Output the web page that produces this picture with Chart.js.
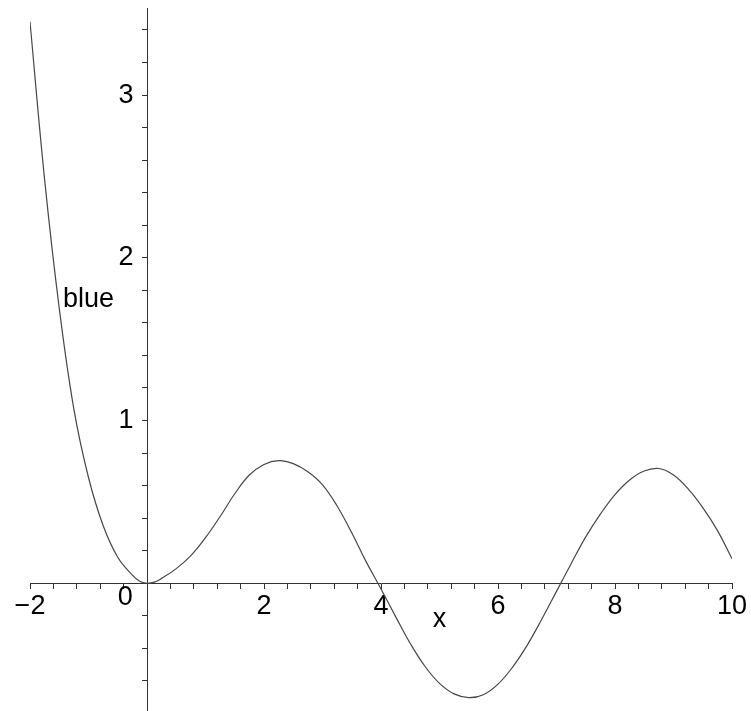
<!DOCTYPE html>
<html>
<head>
<meta charset="utf-8">
<script src="https://cdn.jsdelivr.net/npm/chart.js@4/dist/chart.umd.min.js"></script>
<style>
  html, body { margin: 0; padding: 0; background: #ffffff; }
  #wrap { width: 751px; height: 711px; position: relative; }
</style>
</head>
<body>
<div id="wrap"><canvas id="plot"></canvas></div>
<script>
// curve samples
const xValues = [
  -2, -1.75, -1.5, -1.25, -1, -0.75, -0.5, -0.25, -0.125,
  0, 0.125, 0.25, 0.5, 0.75, 1, 1.25, 1.5, 1.75,
  2, 2.25, 2.5, 2.75, 3, 3.25, 3.5, 3.75,
  4, 4.25, 4.5, 4.75, 5, 5.25, 5.5, 5.75,
  6, 6.25, 6.5, 6.75, 7, 7.25, 7.5, 7.75,
  8, 8.25, 8.5, 8.75, 9, 9.25, 9.5, 9.75, 10
];
const yValues = [
  3.45, 2.48, 1.69, 1.07, 0.65, 0.355, 0.16, 0.05, 0.012,
  0, 0.007, 0.03, 0.09, 0.17, 0.28, 0.41, 0.55, 0.665,
  0.73, 0.754, 0.735, 0.685, 0.605, 0.475, 0.31, 0.13,
  -0.035, -0.205, -0.37, -0.51, -0.615, -0.68, -0.703, -0.685,
  -0.62, -0.515, -0.38, -0.22, -0.05, 0.12, 0.285, 0.425,
  0.545, 0.635, 0.69, 0.705, 0.665, 0.58, 0.465, 0.325, 0.15
];

// axis ranges and tick spacing
const xRange = [-2, 10];
const yRange = [-0.785, 3.535];
const xStep = 0.4;
const yStep = 0.2;

// free text placed in data coordinates
const notes = [
  { text: "blue", x: -1.436, y: 1.70, align: "left" },
  { text: "x", x: 5.0, y: -0.27, align: "center" },
  { text: "0", x: -0.37, y: -0.132, align: "center" }
];

const FAMILY = '"Liberation Sans", Arial, sans-serif';
const AXIS_COLOR = "#333333";

function isWhole(v) {
  return Math.abs(v - Math.round(v)) < 1e-6;
}

function fmt(v) {
  const n = Math.round(v);
  return n < 0 ? "\u2212" + Math.abs(n) : String(n);
}

// centred axes must not take room from the plot area
function noRoom(scale) {
  if (scale.isHorizontal()) scale.height = 0;
  else scale.width = 0;
  scale.paddingLeft = 0;
  scale.paddingRight = 0;
  scale.paddingTop = 0;
  scale.paddingBottom = 0;
}

const points = xValues.map((x, i) => ({ x: x, y: yValues[i] }));

const notesPlugin = {
  id: "notes",
  afterDraw(chart) {
    const ctx = chart.ctx;
    const sx = chart.scales.x;
    const sy = chart.scales.y;
    ctx.save();
    ctx.font = "27px " + FAMILY;
    ctx.fillStyle = "#000000";
    ctx.textBaseline = "alphabetic";
    notes.forEach((n) => {
      ctx.textAlign = n.align;
      ctx.fillText(n.text, sx.getPixelForValue(n.x), sy.getPixelForValue(n.y));
    });
    ctx.restore();
  }
};

new Chart(document.getElementById("plot"), {
  type: "line",
  data: {
    datasets: [
      {
        label: "blue",
        data: points,
        borderColor: "#474747",
        borderWidth: 1.2,
        pointRadius: 0,
        tension: 0.4,
        fill: false
      }
    ]
  },
  options: {
    responsive: true,
    maintainAspectRatio: false,
    animation: false,
    layout: { padding: { left: 30, right: 19, top: 8, bottom: 0 } },
    plugins: {
      legend: { display: false },
      tooltip: { enabled: false }
    },
    scales: {
      x: {
        type: "linear",
        position: { y: 0 },
        min: xRange[0],
        max: xRange[1],
        afterFit: noRoom,
        border: { color: AXIS_COLOR, width: 1 },
        grid: { drawOnChartArea: false, drawTicks: true, tickLength: 5, color: AXIS_COLOR },
        ticks: {
          stepSize: xStep,
          autoSkip: false,
          includeBounds: false,
          maxRotation: 0,
          padding: 2,
          color: "#000000",
          font: { family: FAMILY, size: 27 },
          callback: (v) => (isWhole(v) && Math.round(v) % 2 === 0 && Math.round(v) !== 0 ? fmt(v) : "")
        }
      },
      y: {
        type: "linear",
        position: { x: 0 },
        min: yRange[0],
        max: yRange[1],
        afterFit: noRoom,
        border: { color: AXIS_COLOR, width: 1 },
        grid: { drawOnChartArea: false, drawTicks: true, tickLength: 5, color: AXIS_COLOR },
        ticks: {
          stepSize: yStep,
          autoSkip: false,
          includeBounds: false,
          color: "#000000",
          font: { family: FAMILY, size: 27 },
          // en space keeps the label clear of the tick marks
          callback: (v) => (isWhole(v) && Math.round(v) !== 0 ? fmt(v) + "\u2002" : "")
        }
      }
    }
  },
  plugins: [notesPlugin]
});
</script>
</body>
</html>
